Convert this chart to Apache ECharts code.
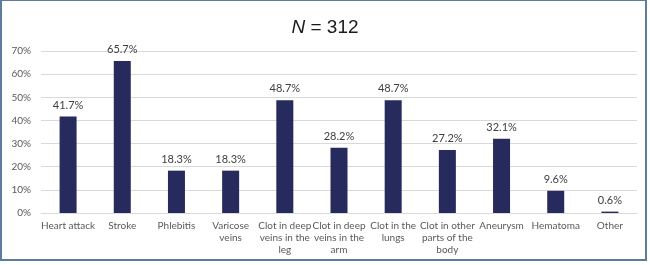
<!DOCTYPE html>
<html>
<head>
<meta charset="utf-8">
<script src="https://cdn.jsdelivr.net/npm/echarts@6/dist/echarts.min.js"></script>
<style>
html,body{margin:0;padding:0;background:#fff;}
#frame{position:absolute;left:0;top:0;width:643px;height:258px;border:2px solid #5b7c9d;border-top-width:1px;}
#chart{position:absolute;left:0;top:0;width:650px;height:265px;}
</style>
</head>
<body>
<div id="frame"></div>
<div id="chart"></div>
<script>
const categories = [
  "Heart attack", "Stroke", "Phlebitis", "Varicose\nveins",
  "Clot in deep\nveins in the\nleg", "Clot in deep\nveins in the\narm",
  "Clot in the\nlungs", "Clot in other\nparts of the\nbody",
  "Aneurysm", "Hematoma", "Other"
];
const values = [41.7, 65.7, 18.3, 18.3, 48.7, 28.2, 48.7, 27.2, 32.1, 9.6, 0.6];
const yTicks = [0, 10, 20, 30, 40, 50, 60, 70];
const titleN = "N";
const titleRest = " = 312";

const chart = echarts.init(document.getElementById('chart'), null, {renderer: 'canvas'});
chart.setOption({
  animation: false,
  backgroundColor: 'transparent',
  title: {
    text: '{i|' + titleN + '}{r|' + titleRest + '}',
    left: 'center',
    top: 13,
    textStyle: {
      fontWeight: 'normal',
      rich: {
        i: {fontFamily: 'Liberation Sans, Arial, sans-serif', fontSize: 19, fontStyle: 'italic', fontWeight: 'normal', color: '#1a1a1a'},
        r: {fontFamily: 'Liberation Sans, Arial, sans-serif', fontSize: 19, fontWeight: 'normal', color: '#1a1a1a'}
      }
    }
  },
  grid: {left: 41, right: 13, top: 51, bottom: 52},
  xAxis: {
    type: 'category',
    data: categories,
    axisTick: {show: false},
    axisLine: {lineStyle: {color: '#d9d9d9', width: 1}},
    axisLabel: {
      interval: 0,
      margin: 7,
      fontSize: 10,
      lineHeight: 12,
      color: '#595959',
      fontFamily: 'Lato, sans-serif'
    }
  },
  yAxis: {
    type: 'value',
    min: yTicks[0],
    max: yTicks[yTicks.length - 1],
    interval: yTicks[1] - yTicks[0],
    axisLine: {show: false},
    axisTick: {show: false},
    splitLine: {lineStyle: {color: '#d9d9d9', width: 1}},
    axisLabel: {
      margin: 10,
      fontSize: 10,
      color: '#595959',
      fontFamily: 'Lato, sans-serif',
      formatter: v => v + '%'
    }
  },
  series: [{
    type: 'bar',
    data: values,
    barWidth: 17,
    itemStyle: {color: '#262a5c'},
    label: {
      show: true,
      position: 'top',
      distance: 6,
      fontSize: 11,
      color: '#404040',
      fontFamily: 'Lato, sans-serif',
      formatter: p => p.value.toFixed(1) + '%'
    }
  }]
});
</script>
</body>
</html>
